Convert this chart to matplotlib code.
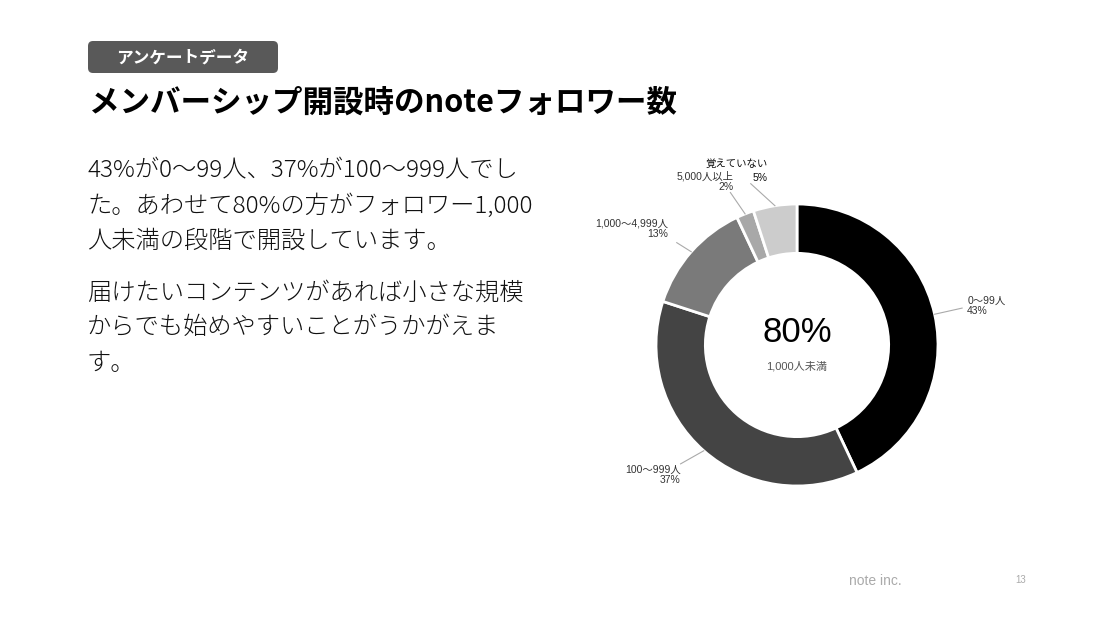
import matplotlib
matplotlib.use("Agg")
import matplotlib.pyplot as plt
import numpy as np
from matplotlib.patches import FancyBboxPatch

# データ
categories = ["0〜99人", "100〜999人", "1,000〜4,999人", "5,000人以上", "覚えていない"]
shares = [43, 37, 13, 2, 5]
colors = ["#000000", "#444444", "#7a7a7a", "#a8a8a8", "#cccccc"]

badge_text = "アンケートデータ"
title_text = "メンバーシップ開設時のnoteフォロワー数"
body_lines = [
    ["43%が0〜99人、37%が100〜999人でし",
     "た。あわせて80%の方がフォロワー1,000",
     "人未満の段階で開設しています。"],
    ["届けたいコンテンツがあれば小さな規模",
     "からでも始めやすいことがうかがえま",
     "す。"],
]
center_big = "80%"
center_small = "1,000人未満"

JP = ["Noto Sans CJK JP", "DejaVu Sans"]
LAB = ["Liberation Sans", "Noto Sans CJK JP"]

W, H = 1111, 619
fig = plt.figure(figsize=(W / 100, H / 100), dpi=100)
fig.patch.set_facecolor("white")

# 全体のレイアウト用 (ピクセル座標)
bg = fig.add_axes([0, 0, 1, 1])
bg.set_xlim(0, W)
bg.set_ylim(H, 0)
bg.axis("off")

bg.add_patch(FancyBboxPatch((88, 41), 190, 32, boxstyle="round,pad=0,rounding_size=5",
                            facecolor="#595959", edgecolor="none"))
bg.text(183, 57.5, badge_text, color="white", fontsize=12, fontweight="bold",
        family=JP, ha="center", va="center")
bg.text(89, 103, title_text, color="black", fontsize=22, fontweight="bold",
        family=JP, ha="left", va="center")

y = 171
for para in body_lines:
    for line in para:
        bg.text(87, y, line, color="#111111", fontsize=17.5, fontweight="light",
                family=JP, ha="left", va="center")
        y += 35
    y += 17

bg.text(875, 581, "note inc.", color="#aaaaaa", fontsize=10, family=LAB,
        ha="center", va="center")
bg.text(1021, 580, "13", color="#aaaaaa", fontsize=7, family=LAB,
        ha="center", va="center")

# ドーナツ
cx, cy, r = 797, 345, 141
ax = fig.add_axes([(cx - r) / W, (H - cy - r) / H, 2 * r / W, 2 * r / H])
wedges, _ = ax.pie(shares, colors=colors, startangle=90, counterclock=False, radius=1,
                   wedgeprops=dict(width=0.35, edgecolor="white", linewidth=2))
ax.set_xlim(-1, 1)
ax.set_ylim(-1, 1)
ax.set_aspect("equal")
ax.axis("off")

ax.text(0, 0.09, center_big, fontsize=25, family=LAB, ha="center", va="center")
ax.text(0, -0.15, center_small, fontsize=8, color="#555555", family=LAB,
        ha="center", va="center")

# ラベルと引き出し線
lead_r = [1.2, 1.18, 1.12, 1.18, 1.19]
lead_shift = [0, -3, 1, 2, 7]
text_off = [(5, 2), (0, -1), (-9, 4), (3, 1), (17, 1)]
text_ha = ["left", "right", "right", "right", "right"]
text_va = ["center", "top", "bottom", "bottom", "bottom"]
text_ls = [1.05, 1.05, 1.05, 1.05, 1.45]

for i, w in enumerate(wedges):
    mid = np.deg2rad((w.theta1 + w.theta2) / 2)
    end = mid + np.deg2rad(lead_shift[i])
    x1, y1 = np.cos(mid), np.sin(mid)
    x2, y2 = lead_r[i] * np.cos(end), lead_r[i] * np.sin(end)
    ax.plot([x1, x2], [y1, y2], color="#aaaaaa", linewidth=0.8, clip_on=False)
    lab = f"{categories[i]}\n{shares[i]}%"
    ax.annotate(lab, (x2, y2), xytext=text_off[i], textcoords="offset pixels",
                fontsize=7.5, color="#333333" if i < 4 else "#111111", family=LAB,
                ha=text_ha[i], va=text_va[i],
                multialignment="right" if text_ha[i] == "right" else "left",
                annotation_clip=False, linespacing=text_ls[i])

fig.savefig("out.png", dpi=100)
